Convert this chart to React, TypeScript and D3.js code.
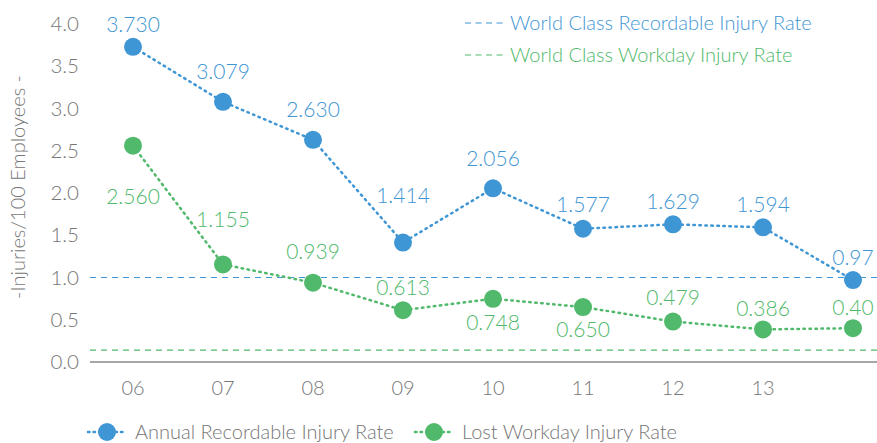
import React from 'react';
import * as d3 from 'd3';

// chart data
const years = ['06', '07', '08', '09', '10', '11', '12', '13', '14'];
const yearLabels = ['06', '07', '08', '09', '10', '11', '12', '13', ''];
const recordable = [3.73, 3.079, 2.63, 1.414, 2.056, 1.577, 1.629, 1.594, 0.97];
const recordableText = ['3.730', '3.079', '2.630', '1.414', '2.056', '1.577', '1.629', '1.594', '0.97'];
const lostWorkday = [2.56, 1.155, 0.939, 0.613, 0.748, 0.65, 0.479, 0.386, 0.4];
const lostWorkdayText = ['2.560', '1.155', '0.939', '0.613', '0.748', '0.650', '0.479', '0.386', '0.40'];
const yTicks = [0, 0.5, 1, 1.5, 2, 2.5, 3, 3.5, 4];
const worldClassRecordable = 1.0;
const worldClassWorkday = 0.14;

// label offsets (px, relative to the dot)
const recordableDy = [-22, -30, -30, -47, -30, -24, -23, -23, -22];
const lostDy = [51, -45, -31, -23, 24, 23, -24, -21, -21];

const BLUE = '#3f96d4';
const GREEN = '#50b96b';
const GRAY = '#767676';
const FONT = 'Lato, "Open Sans", sans-serif';

export default function App() {
  const width = 877;
  const height = 443;

  const x = d3.scalePoint<string>().domain(years).range([133, 853]);
  const y = d3.scaleLinear().domain([0, 4]).range([362, 24]);

  const line = d3
    .line<number>()
    .x((_, i) => x(years[i]) as number)
    .y((d) => y(d));

  const series = [
    { values: recordable, text: recordableText, dy: recordableDy, color: BLUE },
    { values: lostWorkday, text: lostWorkdayText, dy: lostDy, color: GREEN },
  ];

  return (
    <svg width={width} height={height} style={{ position: 'absolute', left: 0, top: 0 }}>
      <rect width={width} height={height} fill="#fff" />

      {/* y axis ticks */}
      {yTicks.map((t) => (
        <text
          key={t}
          x={79}
          y={y(t)}
          dy="0.35em"
          textAnchor="end"
          fontFamily={FONT}
          fontWeight={300}
          fontSize={20.5}
          fill={GRAY}
        >
          {t.toFixed(1)}
        </text>
      ))}
      <text
        transform={`translate(18, 187) rotate(-90)`}
        textAnchor="middle"
        dy="0.35em"
        fontFamily={FONT}
        fontWeight={300}
        fontSize={20}
        fill={GRAY}
      >
        -Injuries/100 Employees -
      </text>

      {/* world class reference lines */}
      <line x1={90} x2={width} y1={y(worldClassRecordable)} y2={y(worldClassRecordable)}
        stroke={BLUE} strokeWidth={1.2} strokeDasharray="6,5" />
      <line x1={90} x2={width} y1={y(worldClassWorkday)} y2={y(worldClassWorkday)}
        stroke={GREEN} strokeWidth={1.2} strokeDasharray="6,5" />

      {/* x axis */}
      <line x1={90} x2={width} y1={y(0)} y2={y(0)} stroke="#8a8a8a" strokeWidth={1.5} />
      {years.map((yr, i) => (
        <text
          key={yr}
          x={x(yr)}
          y={388}
          dy="0.35em"
          textAnchor="middle"
          fontFamily={FONT}
          fontWeight={300}
          fontSize={20}
          fill={GRAY}
        >
          {yearLabels[i]}
        </text>
      ))}

      {/* series */}
      {series.map((s, si) => (
        <g key={si}>
          <path d={line(s.values) || ''} fill="none" stroke={s.color} strokeWidth={2.5}
            strokeDasharray="1.5,4.5" strokeLinecap="round" />
          {s.values.map((v, i) => (
            <circle key={i} cx={x(years[i])} cy={y(v)} r={9} fill={s.color} />
          ))}
          {s.values.map((v, i) => (
            <text
              key={'t' + i}
              x={x(years[i])}
              y={y(v) + s.dy[i]}
              dy="0.35em"
              textAnchor="middle"
              fontFamily={FONT}
              fontWeight={300}
              fontSize={21}
              fill={s.color}
            >
              {s.text[i]}
            </text>
          ))}
        </g>
      ))}

      {/* top legend */}
      {[
        { label: 'World Class Recordable Injury Rate', color: BLUE, yy: 23 },
        { label: 'World Class Workday Injury Rate', color: GREEN, yy: 55 },
      ].map((l) => (
        <g key={l.label}>
          <line x1={465} x2={503} y1={l.yy} y2={l.yy} stroke={l.color} strokeWidth={1.2} strokeDasharray="6,4.5" />
          <text x={510} y={l.yy} dy="0.35em" fontFamily={FONT} fontWeight={300} fontSize={20} fill={l.color}>
            {l.label}
          </text>
        </g>
      ))}

      {/* bottom legend */}
      {[
        { label: 'Annual Recordable Injury Rate', color: BLUE, x0: 88 },
        { label: 'Lost Workday Injury Rate', color: GREEN, x0: 415 },
      ].map((l) => (
        <g key={l.label}>
          <line x1={l.x0} x2={l.x0 + 38} y1={432} y2={432} stroke={l.color} strokeWidth={2.5}
            strokeDasharray="1.5,4" strokeLinecap="round" />
          <circle cx={l.x0 + 19} cy={432} r={9} fill={l.color} />
          <text x={l.x0 + 47} y={432} dy="0.35em" fontFamily={FONT} fontWeight={300} fontSize={20} fill={GRAY}>
            {l.label}
          </text>
        </g>
      ))}
    </svg>
  );
}
